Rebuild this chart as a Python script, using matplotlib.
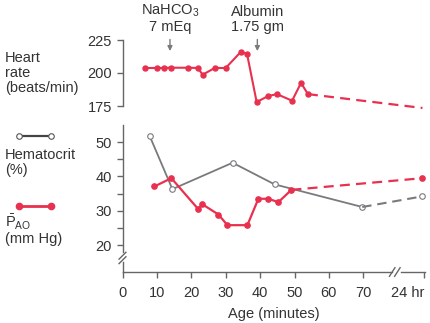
import matplotlib.pyplot as plt
from matplotlib.ticker import FixedLocator

plt.rcParams['font.family'] = ['Liberation Sans', 'DejaVu Sans']
plt.rcParams['mathtext.fontset'] = 'custom'
plt.rcParams['mathtext.rm'] = 'Liberation Sans'
plt.rcParams['mathtext.it'] = 'Liberation Sans:italic'

# heart rate (beats/min)
hr_min = [6.4, 9.9, 12.2, 14, 19, 21.9, 23.3, 26.8, 30, 34.4, 36.2, 39, 42.3, 44.9, 49.3, 51.9, 53.9]
hr_val = [203.8, 203.8, 203.8, 204, 204, 203.8, 198.7, 203.8, 203.8, 216, 214.5, 178, 182.5, 184, 179, 192.5, 184]
hr_24h = 173.5

# hematocrit (%)
hct_min = [7.9, 14.5, 32, 44.2, 69.7]
hct_val = [51.8, 36.3, 44, 37.7, 31.1]
hct_24h = 34.2

# mean aortic pressure (mm Hg)
pao_min = [9.3, 14.2, 22, 23.2, 27.9, 30.5, 36.3, 39.5, 42.4, 45.3, 49.1]
pao_val = [37.1, 39.5, 30.5, 31.9, 28.9, 25.8, 25.8, 33.5, 33.5, 32.5, 36.1]
pao_24h = 39.5

x_ticks = [0, 10, 20, 30, 40, 50, 60, 70, 87.7]
x_labels = ['0', '10', '20', '30', '40', '50', '60', '70', '24 hr']
pos_24h = 87.2

RED = '#e8304f'
GRAY = '#7a7a7e'
AX = '#666666'
TXT = '#333333'
FS = 10.5

fig = plt.figure(figsize=(4.3, 3.23), dpi=100)
W, H = 430, 323

def fig_box(l, t, r, b):
    return [l / W, 1 - b / H, (r - l) / W, (b - t) / H]

xmax = (424.5 - 122.5) / 3.44
ax_top = fig.add_axes(fig_box(122.5, 33.4, 424.5, 112.6))
ax_bot = fig.add_axes(fig_box(122.5, 125, 424.5, 272))

for ax in (ax_top, ax_bot):
    ax.set_xlim(0, xmax)
    ax.patch.set_alpha(0)
    for s in ('top', 'right'):
        ax.spines[s].set_visible(False)
    for s in ('left', 'bottom'):
        ax.spines[s].set_color(AX)
        ax.spines[s].set_linewidth(1.0)
    ax.tick_params(colors=AX, labelcolor=TXT, labelsize=FS, width=1.0, length=4)

# upper panel
ax_top.set_ylim(170, 230)
ax_top.spines['bottom'].set_visible(False)
ax_top.spines['left'].set_bounds(175, 225)
ax_top.set_yticks([175, 200, 225])
ax_top.set_xticks([])
ax_top.plot(hr_min, hr_val, color=RED, lw=1.5, marker='o', ms=3.6, clip_on=False, zorder=3)
ax_top.plot([hr_min[-1], pos_24h], [hr_val[-1], hr_24h], color=RED, lw=1.6,
            ls=(0, (4.5, 2.8)), clip_on=False)

# lower panel
ax_bot.set_ylim(12.15, 55)
ax_bot.spines['left'].set_bounds(18, 55)
ax_bot.set_yticks([20, 30, 40, 50])
ax_bot.yaxis.set_minor_locator(FixedLocator([25, 35, 45]))
ax_bot.tick_params(axis='y', which='minor', colors=AX, width=1.0, length=4)
ax_bot.set_xticks(x_ticks)
ax_bot.set_xticklabels(x_labels)
ax_bot.tick_params(axis='x', pad=6)
lbl24 = ax_bot.get_xticklabels()[-1]
lbl24.set_horizontalalignment('right')
ax_bot.spines['bottom'].set_bounds(0, 78.3)
ax_bot.plot([81.0, xmax], [12.15, 12.15], color=AX, lw=1.0, clip_on=False)
ax_bot.plot([0, 0], [12.15, 15.0], color=AX, lw=1.0, clip_on=False)
# axis break marks
for dx in (0, 1.5):
    ax_bot.plot([77.6 + dx, 79.2 + dx], [10.9, 13.4], color=AX, lw=1.0, clip_on=False)
for dy in (0, 1.3):
    ax_bot.plot([-1.0, 1.0], [14.6 + dy, 16.6 + dy], color=AX, lw=1.0, clip_on=False)

ax_bot.plot(hct_min, hct_val, color=GRAY, lw=1.3, marker='o', ms=4, mfc='white',
            mec=GRAY, mew=0.8, clip_on=False, zorder=3)
ax_bot.plot([hct_min[-1], pos_24h], [hct_val[-1], hct_24h], color=GRAY, lw=1.5,
            ls=(0, (4.5, 2.8)), marker='o', ms=4, mfc='white', mec=GRAY, mew=0.8,
            markevery=[1], clip_on=False, zorder=3)
ax_bot.plot(pao_min, pao_val, color=RED, lw=1.6, marker='o', ms=3.8, clip_on=False, zorder=4)
ax_bot.plot([pao_min[-1], pos_24h], [pao_val[-1], pao_24h], color=RED, lw=1.6,
            ls=(0, (4.5, 2.8)), marker='o', ms=3.8, markevery=[1], clip_on=False, zorder=4)

ax_bot.set_xlabel('Age (minutes)', fontsize=FS, color=TXT, labelpad=5)

# treatment annotations
for xm, label in [(13.8, 'NaHCO$_3$\n7 mEq'), (39.2, 'Albumin\n1.75 gm')]:
    ax_top.annotate('', xy=(xm, 214.5), xytext=(xm, 227.5),
                    arrowprops=dict(arrowstyle='-|>', color=GRAY, lw=1.0,
                                    mutation_scale=7), annotation_clip=False)
    ax_top.text(xm, 229.8, label, ha='center', va='bottom', fontsize=FS, color=TXT,
                linespacing=1.1)

# left-hand labels and key
fig.text(5 / W, 1 - 51 / H, 'Heart\nrate\n(beats/min)', ha='left', va='top',
         fontsize=FS, color=TXT, linespacing=1.1)
fig.text(5 / W, 1 - 148 / H, 'Hematocrit\n(%)', ha='left', va='top',
         fontsize=FS, color=TXT, linespacing=1.1)
fig.text(5 / W, 1 - 213 / H, r'$\bar{\mathrm{P}}_{\mathrm{AO}}$', ha='left', va='top',
         fontsize=FS, color=TXT)
fig.text(5 / W, 1 - 232 / H, '(mm Hg)', ha='left', va='top', fontsize=FS, color=TXT)
fig.add_artist(plt.Line2D([19 / W, 51 / W], [1 - 136 / H] * 2, color='#444444', lw=1.6,
                          marker='o', ms=4, mfc='white', mec='#555555', mew=0.8))
fig.add_artist(plt.Line2D([19 / W, 51 / W], [1 - 205.7 / H] * 2, color=RED, lw=2,
                          marker='o', ms=4.5, mec=RED))

fig.savefig('out.png', dpi=100)
